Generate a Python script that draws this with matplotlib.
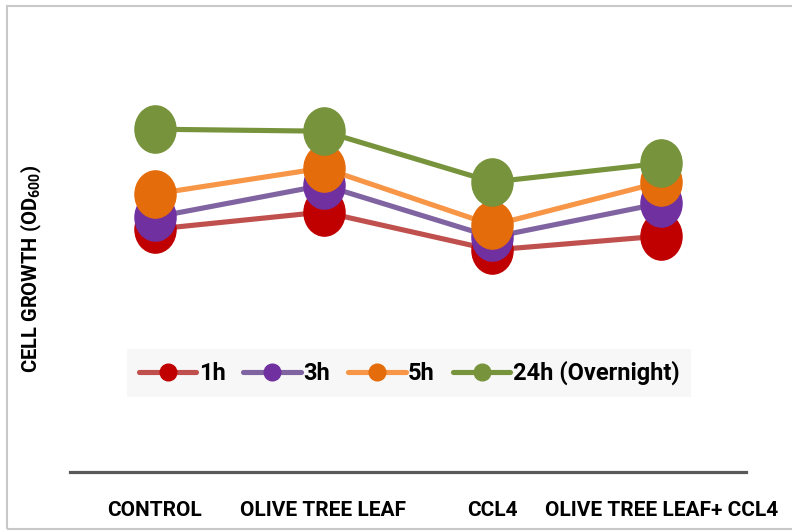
import numpy as np
import matplotlib
matplotlib.use('Agg')
import matplotlib.pyplot as plt
from matplotlib.path import Path
from matplotlib.lines import Line2D
from matplotlib.patches import Rectangle

# data (OD600, approx.)
categories = ['CONTROL', 'OLIVE TREE LEAF', 'CCL4', 'OLIVE TREE LEAF+ CCL4']
series_names = ['1h', '3h', '5h', '24h (Overnight)']
vals_1h = [0.607, 0.650, 0.555, 0.590]
vals_3h = [0.637, 0.717, 0.587, 0.672]
vals_5h = [0.695, 0.760, 0.617, 0.725]
vals_24h = [0.857, 0.852, 0.725, 0.772]

line_colors = ['#C0504D', '#8064A2', '#F79646', '#77933C']
marker_colors = ['#C00000', '#7030A0', '#E46C0A', '#77933C']

plt.rcParams['font.family'] = ['Roboto', 'DejaVu Sans']
plt.rcParams['font.weight'] = 'bold'
plt.rcParams['mathtext.fontset'] = 'custom'
plt.rcParams['mathtext.rm'] = 'Roboto:bold'
plt.rcParams['mathtext.it'] = 'Roboto:bold'
plt.rcParams['mathtext.bf'] = 'Roboto:bold'

# slightly tall ellipse marker, like the original
circ = Path.unit_circle()
ellipse = Path(circ.vertices * np.array([0.87, 1.0]), circ.codes)

fig = plt.figure(figsize=(7.92, 5.32), dpi=100)

# light gray outer border of the chart area
fig.patches.append(Rectangle((7 / 792, 3 / 532), 790 / 792, 523 / 532,
                             transform=fig.transFigure, fill=False,
                             edgecolor='#C8C8C8', linewidth=1.5))

ax = fig.add_axes([70 / 792, 60 / 532, 676 / 792, 442 / 532])

x = np.arange(len(categories))
all_vals = [vals_1h, vals_3h, vals_5h, vals_24h]
for vals, lc, mc in zip(all_vals, line_colors, marker_colors):
    ax.plot(x, vals, color=lc, linewidth=3.7, marker=ellipse,
            markersize=34, markerfacecolor=mc, markeredgecolor=mc,
            solid_capstyle='round')

ax.set_xlim(-0.5, len(categories) - 0.5)
ax.set_ylim(0, 1.105)

for s in ['top', 'right', 'left']:
    ax.spines[s].set_visible(False)
ax.spines['bottom'].set_color('#595959')
ax.spines['bottom'].set_linewidth(2.3)
ax.set_yticks([])
ax.set_xticks(x)
ax.set_xticklabels(categories, fontsize=15, fontweight='bold',
                   family=['Liberation Sans Narrow', 'Roboto', 'DejaVu Sans'])
ax.tick_params(axis='x', length=0, pad=21)

fig.text(31 / 792, 263 / 532, 'CELL GROWTH (OD$_{600}$)', rotation=90,
         ha='center', va='center', fontsize=14.5, fontweight='bold')

# legend with grey background box
handles = [Line2D([0], [0], color=lc, linewidth=3.7, marker='o', markersize=12,
                  markerfacecolor=mc, markeredgecolor=mc, solid_capstyle='round')
           for lc, mc in zip(line_colors, marker_colors)]
leg = ax.legend(handles, series_names, ncol=4, loc='center',
                bbox_to_anchor=((409 - 70) / 676, (472 - 373) / 442),
                frameon=True, fancybox=False, facecolor='#F7F7F7',
                edgecolor='none', framealpha=1, handlelength=2.45,
                handletextpad=0.1, columnspacing=0.75, borderpad=0.5,
                borderaxespad=0, prop={'size': 17, 'weight': 'bold'})

fig.savefig('out.png', dpi=100)
